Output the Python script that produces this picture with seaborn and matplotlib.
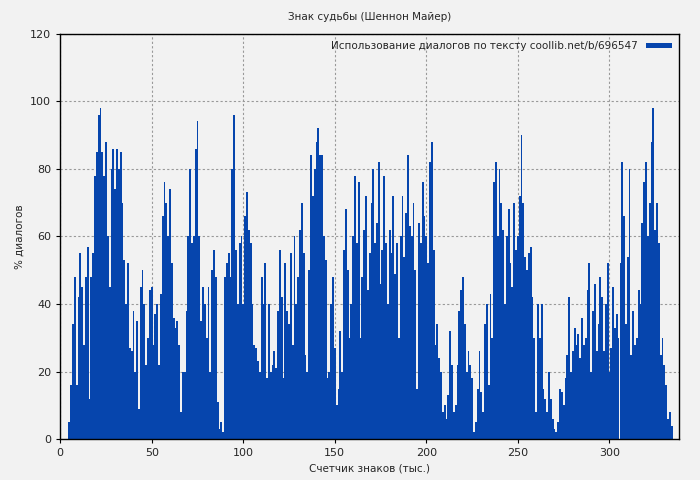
import matplotlib
matplotlib.use('Agg')
import matplotlib.pyplot as plt
import numpy as np
import seaborn as sns

title = 'Знак судьбы (Шеннон Майер)'
legend_label = 'Использование диалогов по тексту coollib.net/b/696547'

start = 5
values = [
    5, 16, 34, 48, 16, 42, 55, 45, 28, 48, 57, 12, 48, 55, 78, 85, 96, 98, 85, 78,
    88, 60, 45, 80, 86, 74, 86, 80, 85, 70, 53, 40, 52, 27, 26, 38, 20, 35, 9, 45,
    50, 40, 22, 30, 44, 45, 28, 37, 40, 22, 43, 66, 76, 70, 60, 74, 52, 36, 33, 35,
    28, 8, 20, 20, 38, 60, 80, 58, 60, 86, 94, 60, 35, 45, 40, 30, 45, 20, 50, 56,
    48, 11, 3, 5, 2, 48, 52, 55, 48, 80, 96, 56, 40, 58, 60, 40, 66, 73, 62, 58,
    40, 28, 27, 23, 20, 48, 40, 52, 18, 40, 20, 22, 26, 21, 38, 56, 42, 18, 52, 38,
    34, 55, 28, 60, 40, 48, 62, 70, 55, 25, 20, 50, 84, 72, 80, 88, 92, 84, 84, 60,
    53, 18, 20, 40, 48, 27, 10, 15, 32, 20, 56, 68, 50, 30, 40, 60, 78, 58, 76, 30,
    48, 62, 72, 44, 55, 70, 80, 58, 64, 82, 46, 56, 78, 58, 40, 62, 55, 72, 49, 58,
    30, 60, 72, 54, 67, 84, 63, 60, 70, 50, 15, 64, 58, 76, 66, 60, 52, 82, 88, 56,
    28, 34, 24, 20, 8, 10, 6, 13, 32, 22, 8, 10, 22, 38, 44, 48, 34, 20, 26, 22,
    18, 2, 5, 15, 26, 14, 8, 34, 40, 16, 43, 30, 76, 82, 60, 80, 70, 62, 40, 60,
    68, 52, 45, 70, 56, 60, 72, 90, 70, 54, 50, 55, 57, 42, 30, 8, 40, 30, 40, 15,
    12, 8, 20, 12, 6, 3, 2, 5, 15, 14, 10, 18, 25, 42, 20, 26, 33, 28, 31, 24,
    36, 28, 30, 44, 52, 20, 38, 46, 26, 34, 48, 42, 26, 40, 52, 20, 27, 45, 33, 37,
    30, 52, 82, 66, 34, 54, 80, 25, 38, 28, 30, 44, 40, 64, 76, 82, 60, 70, 88, 98,
    62, 70, 58, 25, 30, 22, 16, 6, 8, 4,
]
positions = np.arange(start, start + len(values))

bg = '#f2f2f2'
sns.set_style('whitegrid')
plt.rcParams['font.family'] = ['DejaVu Sans']

fig, ax = plt.subplots(figsize=(7, 4.8), dpi=100)
fig.patch.set_facecolor(bg)
ax.set_facecolor(bg)

sns.barplot(x=positions, y=values, native_scale=True, width=1.0,
            color='#0645ad', saturation=1, linewidth=0, label=legend_label, ax=ax)

ax.set_xlim(0, 338)
ax.set_ylim(0, 120)
ax.set_yticks(range(0, 121, 20))
ax.set_xticks(range(0, 301, 50))
ax.grid(True, color='#999999', linestyle=(0, (2, 2)), linewidth=0.8)
ax.set_axisbelow(True)
for s in ax.spines.values():
    s.set_color('black')
    s.set_linewidth(1)
ax.tick_params(labelsize=8, length=3, color='black', left=True, bottom=True)
ax.set_title(title, fontsize=7.5, pad=10)
ax.set_xlabel('Счетчик знаков (тыс.)', fontsize=7.5)
ax.set_ylabel('% диалогов', fontsize=7.5)
ax.legend(loc='upper right', frameon=False, fontsize=7.5, markerfirst=False,
          handlelength=2.5, handleheight=0.4, borderaxespad=0.3)

plt.subplots_adjust(left=0.086, right=0.97, top=0.93, bottom=0.085)
fig.savefig('out.png', dpi=100, facecolor=bg)
